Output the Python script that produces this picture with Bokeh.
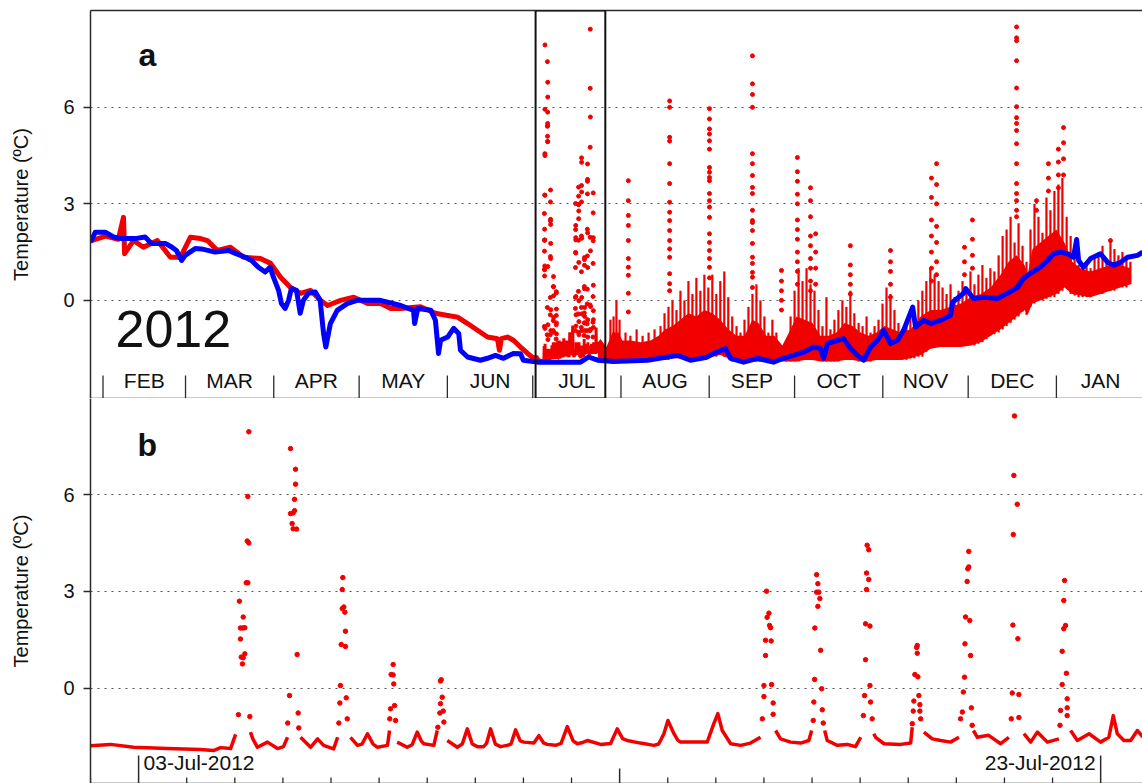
import numpy as np
import pandas as pd
from bokeh.plotting import figure
from bokeh.layouts import column
from bokeh.models import Range1d, FixedTicker, DatetimeAxis, BoxAnnotation
from bokeh.embed import file_html
from bokeh.resources import INLINE
from bokeh.core.properties import value

nan = float("nan")

# ---------------- DATA ----------------
# Panel a: days since 2012-01-01
a_blue_day = [26.6, 28.3, 31.8, 34.7, 37.5, 42.3, 45.8, 48.0, 52.9, 55.1, 56.8, 58.6, 59.9, 63.4, 65.6, 70.4,
              75.1, 77.5, 81.0, 83.2, 85.6, 88.0, 89.7, 90.9, 92.7, 93.7, 95.0, 96.2, 97.2, 99.0, 100.3, 101.4,
              103.2, 105.6, 107.3, 108.5, 109.3, 110.9, 113.3, 116.8, 120.3, 125.0, 128.5, 135.6, 140.1, 140.5,
              141.6, 146.2, 147.8, 148.9, 149.6, 152.1, 154.2, 156.0, 156.6, 159.1, 163.6, 166.1, 168.9, 171.7,
              175.2, 177.7, 178.7, 183.7, 191.8, 198.8, 201.6, 204.8, 210.4, 222.3, 232.9, 237.4, 242.7, 246.9,
              249.7, 251.5, 256.1, 261.0, 266.6, 270.1, 273.6, 277.2, 280.7, 283.1, 284.2, 285.6, 291.2, 293.7,
              296.1, 298.3, 300.7, 303.2, 305.3, 307.7, 310.2, 312.3, 315.5, 316.5, 319.3, 321.8, 325.3, 328.8,
              329.5, 333.4, 334.1, 336.9, 340.4, 345.3, 348.8, 352.3, 354.4, 356.9, 360.4, 362.9, 365.0, 367.5,
              369.9, 372.0, 373.1, 373.8, 375.5, 378.0, 381.5, 384.0, 386.1, 388.5, 391.0, 394.5, 396.3]
a_blue_temp = [1.81, 2.12, 2.12, 1.97, 1.92, 1.92, 1.97, 1.77, 1.77, 1.66, 1.55, 1.24, 1.40, 1.61, 1.60, 1.50,
               1.55, 1.46, 1.34, 1.24, 1.03, 0.88, 1.03, 0.72, 0.31, -0.10, -0.25, 0.00, 0.37, 0.31, -0.40, 0.00,
               0.22, 0.26, 0.00, -1.03, -1.45, -0.72, -0.31, -0.10, 0.00, 0.00, 0.00, -0.16, -0.31, -0.72,
               -0.25, -0.31, -0.62, -1.65, -1.24, -1.14, -0.87, -1.03, -1.55, -1.76, -1.86, -1.80, -1.71, -1.80,
               -1.65, -1.66, -1.86, -1.92, -1.92, -1.92, -1.76, -1.86, -1.90, -1.86, -1.71, -1.86, -1.78, -1.60,
               -1.50, -1.80, -1.92, -1.80, -1.92, -1.80, -1.71, -1.61, -1.45, -1.50, -1.80, -1.34, -1.19, -1.50,
               -1.71, -1.86, -1.45, -1.24, -0.93, -1.34, -1.24, -0.93, -0.21, -0.83, -0.62, -0.72, -0.62, -0.47,
               -0.06, 0.22, 0.37, 0.06, 0.10, 0.06, 0.22, 0.40, 0.68, 0.84, 1.03, 1.24, 1.45, 1.50,
               1.45, 1.34, 1.89, 1.24, 1.03, 1.30, 1.45, 1.18, 1.09, 1.18, 1.34, 1.40, 1.50]

a_red_day = [26.6, 31.9, 36.4, 38.2, 38.6, 41.7, 45.2, 50.1, 54.7, 58.2, 61.7, 65.3, 67.7, 71.2, 75.8, 80.4,
             86.3, 89.9, 93.4, 96.9, 100.4, 103.9, 107.5, 109.9, 114.5, 119.1, 124.0, 128.6, 132.1, 135.6,
             142.6, 147.8, 152.1, 155.6, 159.1, 162.6, 166.1, 169.6, 170.3, 171.0, 173.1, 175.2, 177.7, 180.2,
             182.3, 183.2]
a_red_temp = [1.85, 2.00, 1.90, 2.58, 1.45, 1.86, 1.65, 1.86, 1.34, 1.34, 1.96, 1.92, 1.86, 1.55, 1.65, 1.34,
              1.30, 1.15, 0.72, 0.40, 0.22, 0.31, 0.00, -0.16, 0.00, 0.10, -0.10, -0.10, -0.25, -0.25,
              -0.20, -0.40, -0.47, -0.52, -0.72, -0.93, -1.14, -1.19, -1.55, -1.19, -1.14, -1.24, -1.45, -1.65,
              -1.80, -1.78]

# dense core of the red cloud after the zoom window (lower / upper edge)
a_band_day = [204.9, 205.8, 207.9, 210.0, 212.1, 213.5, 216.3, 219.9, 223.4, 226.2, 228.6, 231.1, 233.9, 236.7,
              239.5, 242.3, 245.1, 247.9, 250.7, 253.6, 256.4, 259.2, 261.3, 264.1, 266.9, 269.7, 272.6, 274.7,
              277.5, 280.3, 283.1, 285.9, 288.7, 291.6, 294.4, 297.2, 300.0, 302.8, 305.6, 308.4, 311.2, 314.8,
              318.3, 321.8, 325.3, 328.8, 332.4, 335.9, 339.4, 342.9, 346.4, 349.2, 352.0, 354.8, 355.9, 357.6,
              360.4, 363.2, 366.0, 368.8, 371.6, 374.4, 377.9, 381.5, 385.0, 388.5, 392.0]
a_band_low = [-1.85, -1.85, -1.85, -1.85, -1.85, -1.85, -1.85, -1.85, -1.85, -1.85, -1.85, -1.80, -1.80, -1.80,
              -1.80, -1.80, -1.75, -1.70, -1.80, -1.90, -1.90, -1.90, -1.90, -1.90, -1.90, -1.90, -1.90, -1.90,
              -1.85, -1.85, -1.90, -1.90, -1.90, -1.85, -1.85, -1.90, -1.90, -1.85, -1.85, -1.85, -1.85, -1.80,
              -1.70, -1.50, -1.45, -1.45, -1.45, -1.40, -1.30, -1.10, -0.90, -0.70, -0.50, -0.30, -0.45, -0.10,
              0.00, 0.10, 0.20, 0.40, 0.20, 0.15, 0.10, 0.20, 0.30, 0.40, 0.50]
a_band_high = [-1.30, -1.20, -1.45, -1.00, -1.00, -1.25, -1.25, -1.30, -1.25, -1.10, -0.90, -0.80, -0.60, -0.40,
               -0.50, -0.30, -0.40, -0.60, -0.90, -1.10, -1.10, -0.60, -0.70, -1.10, -1.10, -1.40, -0.90, -0.50,
               -0.60, -0.70, -1.10, -1.10, -1.00, -0.70, -0.80, -1.00, -1.10, -1.00, -0.80, -0.90, -1.00, -0.90,
               -0.50, -0.30, -0.30, -0.20, -0.10, 0.10, 0.20, 0.40, 0.80, 1.20, 1.40, 1.10, 0.80, 1.60,
               1.80, 2.00, 2.20, 1.80, 1.20, 1.00, 0.90, 1.00, 1.10, 1.10, 1.00]

# vertical streaks of dense readings rising out of the core (day, bottom, top)
a_streak_day = [209.3, 210.4, 211.4, 212.5, 214.6, 216.3, 218.5, 220.6, 222.7, 224.8,
                226.9, 228.3, 229.7, 231.1, 232.5, 233.9, 235.3, 236.7, 238.1, 239.5,
                240.9, 242.3, 243.7, 245.1, 246.5, 247.9, 249.3, 250.7, 252.1, 253.6,
                255.0, 256.4, 257.8, 259.2, 260.6, 262.0, 263.4, 264.8, 266.2, 267.6,
                271.1, 272.6, 274.0, 275.4, 276.8, 278.2, 279.6, 281.0, 282.4, 283.8,
                285.2, 286.6, 288.0, 289.4, 290.8, 292.2, 293.6, 295.0, 296.5, 297.9,
                299.3, 300.7, 302.1, 303.5, 304.9, 306.3, 307.7, 309.1, 310.5, 311.9,
                313.3, 314.7, 316.1, 317.5, 318.9, 320.3, 321.7, 323.2, 324.6, 326.0,
                327.4, 328.8, 330.2, 331.6, 333.0, 334.4, 335.8, 337.2, 338.6, 340.0,
                341.4, 342.8, 344.2, 345.7, 347.1, 348.5, 349.9, 351.3, 352.7, 354.1,
                355.5, 356.9, 358.3, 359.7, 361.1, 362.5, 363.9, 365.3, 366.7, 368.1,
                369.6, 371.0, 372.4, 373.8, 375.2, 376.6, 378.0, 379.4, 380.8, 382.2,
                383.6, 385.0, 386.4, 387.8, 389.2, 390.6, 392.0]
a_streak_low = [-1.85, -1.85, -1.85, -1.85, -1.85, -1.85, -1.85, -1.85, -1.85, -1.85,
                -1.85, -1.85, -1.85, -1.80, -1.80, -1.80, -1.80, -1.80, -1.80, -1.80,
                -1.80, -1.80, -1.80, -1.75, -1.75, -1.70, -1.75, -1.80, -1.90, -1.90,
                -1.90, -1.90, -1.90, -1.90, -1.90, -1.90, -1.90, -1.90, -1.90, -1.90,
                -1.90, -1.90, -1.90, -1.90, -1.85, -1.85, -1.85, -1.85, -1.85, -1.90,
                -1.90, -1.90, -1.90, -1.90, -1.85, -1.85, -1.85, -1.85, -1.90, -1.90,
                -1.90, -1.90, -1.85, -1.85, -1.85, -1.85, -1.85, -1.85, -1.85, -1.85,
                -1.85, -1.80, -1.80, -1.75, -1.75, -1.60, -1.50, -1.45, -1.45, -1.45,
                -1.45, -1.45, -1.45, -1.45, -1.40, -1.40, -1.40, -1.40, -1.35, -1.30,
                -1.20, -1.10, -1.05, -1.00, -0.90, -0.80, -0.70, -0.60, -0.50, -0.35,
                -0.45, -0.20, -0.10, 0.00, 0.00, 0.05, 0.10, 0.10, 0.20, 0.30,
                0.40, 0.20, 0.15, 0.10, 0.10, 0.10, 0.10, 0.20, 0.20, 0.20,
                0.30, 0.30, 0.30, 0.40, 0.40, 0.40, 0.50]
a_streak_top = [-0.6, -0.5, 0.0, -0.6, -1.0, -1.1, -0.9, -1.1, -1.0, -0.9,
                -0.8, -0.4, -0.2, 0.0, -0.3, 0.3, 0.0, 0.6, 0.2, 0.7,
                0.3, 0.8, 0.4, 0.8, 0.2, 0.6, 0.9, 0.1, -0.5, -0.8,
                -1.0, -0.6, -0.2, 0.2, 0.5, 0.0, -0.5, -1.0, -0.6, -1.0,
                -1.3, -0.5, 0.3, 1.0, 0.6, 1.0, 0.5, 0.3, -0.3, -0.8,
                0.1, -0.9, -0.6, -0.3, 0.0, -0.2, 0.3, -0.4, -0.7, -0.8,
                -0.5, -1.0, -0.8, -0.6, -0.1, 0.4, 0.2, -0.3, -0.7, -0.9,
                -0.8, -0.5, -0.4, 0.0, 0.3, 0.6, 1.0, 0.8, 0.6, 0.4,
                0.2, 0.5, 0.1, 0.3, 0.6, 0.4, 0.9, 0.5, 0.8, 1.1,
                0.7, 1.0, 0.9, 1.4, 2.0, 2.2, 2.6, 1.8, 2.4, 1.7,
                1.2, 2.2, 3.0, 2.6, 2.1, 3.2, 2.8, 3.4, 3.6, 3.8,
                2.6, 2.0, 1.6, 1.1, 1.0, 1.2, 1.0, 1.3, 1.5, 1.7,
                1.3, 1.9, 1.6, 1.4, 1.5, 1.3, 1.2]

# isolated warm readings (columns of dots) after the zoom window
a_spike_day = [215.6, 230.1, 244.1, 259.2, 269.4, 275.0, 279.6, 281.4, 293.6, 307.7, 322.1, 323.9, 333.7, 336.5,
               352.0, 359.0, 363.2, 366.7, 368.5, 385.0]
a_spike_temp = [
    [3.72, 3.10, 2.64, 2.33, 1.86, 1.30, 1.03, 0.78, 0.22, -0.36],
    [6.20, 6.00, 5.07, 4.95, 4.25, 3.63, 3.05, 2.74, 2.48, 2.17, 1.86, 1.60, 1.34, 0.83, 0.52, 0.30],
    [5.96, 5.64, 5.33, 5.17, 4.96, 4.70, 4.13, 3.98, 3.82, 3.72, 3.32, 3.10, 2.90, 2.58, 2.07, 1.80, 1.55, 1.30, 1.03, 0.70],
    [7.60, 6.73, 6.40, 6.00, 4.56, 4.25, 3.88, 3.51, 3.32, 2.80, 2.48, 2.42, 2.17, 1.77, 1.34, 1.15, 0.87, 0.72, 0.40],
    [0.93, 0.60, 0.30, 0.00, -0.30],
    [4.44, 4.00, 3.70, 3.30, 3.00, 2.50, 2.20, 1.90, 1.50, 1.20, 0.90, 0.50],
    [3.50, 3.10, 2.60, 2.00, 1.70, 1.30, 1.00, 0.60, 0.30],
    [2.07, 1.50, 1.00, 0.50],
    [1.70, 1.10, 0.80, 0.50, 0.20],
    [1.55, 1.20, 0.90, 0.50, 0.10],
    [3.80, 3.20, 2.50, 2.00, 1.50, 1.00, 0.60],
    [4.25, 3.60, 3.00, 2.30, 1.80, 1.20, 0.80],
    [1.65, 1.20, 0.80],
    [2.50, 1.90, 1.40, 1.00],
    [8.50, 8.16, 8.07, 7.45, 6.60, 6.02, 5.68, 5.50, 5.28, 4.87, 4.25, 3.63, 3.32, 3.10, 2.80, 2.60],
    [3.10, 2.80],
    [4.25, 3.80, 3.40],
    [4.70, 4.30, 3.90, 3.50],
    [5.37, 4.90, 4.40, 3.90],
    [1.86],
]

# Panel b (zoom on July): hours since 2012-07-02 00:00
b_base_hours = [0, 10, 21.5, 38.4, 54.9, 61.4, 64.9, 69.9, 72.4, 76.5,
                79.8, 81.0, 83.3, 88.3, 93.3, 96.3, 98.3, 101.0, 104.8, 109.8,
                113.3, 116.3, 121.3, 123.3, 125.5, 129.7, 133.2, 135.5, 138.2, 141.0,
                143.2, 148.2, 149.2, 150.5, 153.0, 158.0, 160.5, 163.0, 165.0, 166.3,
                171.3, 173.0, 174.8, 178.0, 183.0, 185.5, 188.0, 190.5, 193.0, 196.1,
                197.6, 199.6, 202.0, 204.6, 207.9, 209.8, 212.1, 214.4, 216.2, 221.2,
                223.7, 226.0, 227.9, 232.0, 234.8, 237.9, 240.8, 242.9, 245.0, 247.9,
                254.5, 259.5, 262.8, 265.5, 267.8, 274.4, 281.1, 283.5, 286.1, 288.1,
                291.1, 293.0, 294.4, 302.7, 307.7, 311.0, 313.0, 315.2, 319.4, 324.4,
                329.3, 334.3, 337.8, 341.8, 344.3, 349.3, 354.3, 358.4, 359.8, 362.8,
                366.3, 367.6, 372.6, 377.6, 381.7, 384.3, 387.2, 390.8, 391.7, 395.9,
                404.2, 409.2, 410.0, 411.7, 415.8, 420.0, 424.2, 429.1, 433.3, 437.6,
                440.5, 442.5, 448.1, 454.1, 458.2, 461.1, 465.7, 469.1, 472.4, 477.4,
                483.2, 485.5, 489.0, 492.4, 498.2, 504.0, 508.1, 510.3, 512.3, 515.6,
                519.0, 522.3, 525.0]
b_base_temp = [-1.77, -1.73, -1.82, -1.86, -1.89, -1.92, -1.83, -1.86, -1.42, nan,
               -1.35, -1.56, -1.82, -1.66, -1.86, -1.80, -1.51, nan, -1.51, -1.82,
               -1.56, -1.76, -1.87, -1.51, nan, -1.51, -1.76, -1.72, -1.40, -1.72,
               -1.82, -1.76, -1.30, nan, -1.66, -1.82, -1.74, -1.35, -1.62, -1.71,
               -1.76, -1.30, nan, -1.61, -1.82, -1.72, -1.25, -1.72, -1.80, -1.80,
               -1.70, -1.25, -1.72, -1.80, -1.76, -1.72, -1.28, -1.62, -1.66, -1.69,
               -1.46, -1.68, -1.73, -1.76, -1.70, -1.18, -1.62, -1.71, -1.68, -1.61,
               -1.73, -1.70, -1.25, -1.55, -1.61, -1.69, -1.76, -1.72, -1.40, -0.99,
               -1.40, -1.60, -1.66, -1.66, -1.66, -1.09, -0.78, -1.30, -1.71, -1.76,
               -1.69, -1.51, nan, -1.30, -1.56, -1.66, -1.69, -1.61, -1.30, nan,
               -1.30, -1.61, -1.76, -1.73, -1.80, -1.51, nan, -1.40, -1.51, -1.71,
               -1.73, -1.69, -1.20, nan, -1.35, -1.56, -1.61, -1.66, -1.51, nan,
               -1.30, -1.51, -1.45, -1.71, -1.51, nan, -1.40, -1.66, -1.35, -1.66,
               -1.56, nan, -1.30, -1.61, -1.40, -1.66, -1.51, -0.84, -1.40, -1.61,
               -1.61, -1.30, -1.50]

b_event_hours = [
    [79.0, 78.5, 78.2, 79.0, 77.7, 78.5, 74.3, 76.2, 74.8, 76.0, 77.0, 74.8, 75.2, 77.0, 76.2, 75.8, 73.8, 79.5],
    [99.8, 102.3, 102.3, 101.8, 99.8, 101.1, 101.8, 100.6, 101.1, 102.8, 103.1, 99.3, 103.6, 98.4, 103.9],
    [125.9, 125.6, 126.4, 125.6, 126.9, 127.2, 125.1, 127.2, 124.7, 124.4, 127.6, 128.1, 123.9],
    [151.0, 150.0, 151.0, 151.3, 149.7, 151.7, 149.3, 152.2],
    [175.0, 174.6, 175.5, 174.6, 176.0, 174.3, 176.3, 173.3],
    [337.3, 338.5, 337.6, 338.8, 339.3, 336.8, 339.6, 336.8, 336.0, 339.8, 336.0, 340.6, 335.2, 340.6],
    [362.3, 362.9, 363.4, 362.3, 363.9, 362.9, 361.4, 364.3, 361.3, 364.8, 360.9, 365.1, 360.6, 365.6],
    [387.5, 388.3, 387.2, 388.3, 387.2, 386.7, 388.9, 386.7, 388.9, 386.2, 389.2, 385.6, 390.0],
    [412.5, 412.2, 412.5, 411.3, 412.8, 413.3, 410.8, 413.8, 413.8, 410.5, 414.2, 410.0],
    [438.2, 438.2, 437.7, 437.4, 436.6, 438.7, 436.3, 439.1, 436.1, 435.5, 439.5, 435.0, 434.1, 439.9],
    [461.0, 460.7, 462.4, 460.4, 460.2, 462.7, 459.9, 463.2, 459.4, 463.2],
    [486.0, 485.6, 486.5, 485.6, 484.8, 486.9, 484.8, 487.3, 484.0, 487.3, 487.3, 483.7],
]
b_event_temp = [
    [7.94, 5.94, 4.56, 4.50, 3.27, 3.27, 2.70, 2.21, 1.87, 1.87, 1.88, 1.53, 0.97, 1.07, 0.95, 0.76, -0.81, -0.87],
    [7.42, 6.78, 6.32, 5.85, 5.41, 5.43, 5.50, 5.10, 4.94, 4.93, 1.05, -0.22, -0.76, -1.07, -1.22],
    [3.43, 3.06, 2.52, 2.47, 2.36, 1.77, 1.36, 1.30, 0.09, -0.45, -0.29, -0.94, -1.07],
    [0.74, 0.43, 0.42, 0.14, -0.63, -0.53, -0.94, -0.99],
    [0.27, 0.23, -0.27, -0.47, -0.70, -0.76, -1.04, -1.20],
    [3.01, 2.33, 2.20, 1.95, 1.88, 1.49, 1.47, 1.02, 0.09, 0.12, -0.25, -0.45, -0.94, -0.80],
    [3.52, 3.24, 2.98, 2.98, 2.78, 2.54, 1.87, 1.18, 0.28, -0.01, -0.42, -0.66, -0.99, -1.07],
    [4.43, 4.29, 3.57, 3.37, 3.06, 2.00, 1.93, 0.89, 0.09, -0.22, -0.42, -0.84, -0.94],
    [1.33, 1.27, 1.09, 0.43, 0.36, -0.22, -0.39, -0.50, -0.70, -0.70, -0.94, -1.09],
    [4.24, 3.76, 3.70, 3.31, 2.21, 2.10, 1.38, 1.02, 0.35, -0.11, -0.60, -0.73, -0.94, -1.14],
    [8.43, 6.59, 5.70, 4.76, 1.96, 1.54, -0.14, -0.19, -0.94, -0.90],
    [3.34, 2.72, 1.95, 1.85, 1.15, 0.47, 0.12, -0.32, -0.68, -0.60, -0.84, -1.14],
]

# axes / labels
y_ticks = [0, 3, 6]
month_starts = ["2012-02-01", "2012-03-01", "2012-04-01", "2012-05-01", "2012-06-01", "2012-07-01",
                "2012-08-01", "2012-09-01", "2012-10-01", "2012-11-01", "2012-12-01", "2013-01-01", "2013-02-01"]
month_names = ["FEB", "MAR", "APR", "MAY", "JUN", "JUL", "AUG", "SEP", "OCT", "NOV", "DEC", "JAN"]
zoom_window = ("2012-07-02 00:00", "2012-07-26 12:00")
b_label_dates = ["2012-07-03", "2012-07-23"]
b_labels = ["03-Jul-2012", "23-Jul-2012"]
b_mid_date = "2012-07-13"
b_day_ticks = ["2012-07-02", "2012-07-04", "2012-07-05", "2012-07-06", "2012-07-07", "2012-07-08",
               "2012-07-09", "2012-07-10", "2012-07-11", "2012-07-12", "2012-07-14", "2012-07-15",
               "2012-07-16", "2012-07-17", "2012-07-18", "2012-07-19", "2012-07-20", "2012-07-21",
               "2012-07-22", "2012-07-24"]

# ---------------- HELPERS ----------------
RED = "#f20000"
BLUE = "#0000ff"
AXIS = "#2b2b2b"
TXT = "#111111"
FONT = "Liberation Sans"

T0 = pd.Timestamp("2012-01-01")
B0 = pd.Timestamp("2012-07-02")


def from_days(d):
    return T0 + pd.to_timedelta(np.asarray(d, dtype=float), unit="D")


def from_hours(h):
    return B0 + pd.to_timedelta(np.asarray(h, dtype=float), unit="h")


def ms(ts):
    return pd.Timestamp(ts).value / 1e6


a_xlim = (T0 + pd.Timedelta(days=26.61), T0 + pd.Timedelta(days=396.25))
a_ylim = (-3.05, 9.01)
b_xlim = (B0, B0 + pd.Timedelta(days=21.87))
b_ylim = (-2.94, 8.97)


def style_y(p):
    ax = p.yaxis[0]
    ax.ticker = FixedTicker(ticks=y_ticks)
    ax.major_label_text_font = FONT
    ax.major_label_text_font_size = "20px"
    ax.major_label_text_color = TXT
    ax.major_tick_out = 7
    ax.major_tick_in = 0
    ax.minor_tick_out = 0
    ax.minor_tick_in = 0
    ax.major_label_standoff = 9
    ax.axis_label = "Temperature (ºC)"
    ax.axis_label_text_font = FONT
    ax.axis_label_text_font_size = "20px"
    ax.axis_label_text_font_style = "normal"
    ax.axis_label_text_color = TXT
    ax.axis_label_standoff = 28
    ax.axis_line_color = AXIS
    ax.axis_line_width = 1.5
    ax.major_tick_line_color = AXIS
    ax.major_tick_line_width = 1.5
    p.ygrid.ticker = FixedTicker(ticks=y_ticks)
    p.ygrid.grid_line_color = "#555555"
    p.ygrid.grid_line_dash = "2 5"
    p.ygrid.grid_line_width = 1
    p.xgrid.grid_line_color = None


def line_only(ax):
    ax.ticker = FixedTicker(ticks=[], minor_ticks=[])
    ax.major_tick_in = 0
    ax.major_tick_out = 0
    ax.minor_tick_in = 0
    ax.minor_tick_out = 0
    ax.major_label_standoff = 0
    ax.axis_line_color = AXIS
    ax.axis_line_width = 1.5


def ticks_up(p, dates, y0, length, width=1.3):
    p.ray(x=[pd.Timestamp(d) for d in dates], y=[y0] * len(dates), length=length, length_units="screen",
          angle=90, angle_units="deg", line_color=AXIS, line_width=width)


# ---------------- PANEL A ----------------
pa = figure(width=1142, height=398, x_axis_type="datetime",
            x_range=Range1d(*a_xlim), y_range=Range1d(*a_ylim),
            toolbar_location=None, output_backend="svg",
            min_border_left=90, min_border_right=0, min_border_top=10, min_border_bottom=0,
            outline_line_color=None, background_fill_color="white", border_fill_color="white")
style_y(pa)
line_only(pa.xaxis[0])
top_a = DatetimeAxis()
line_only(top_a)
pa.add_layout(top_a, "above")

# red series
pa.varea(x=from_days(a_band_day), y1=a_band_low, y2=a_band_high, fill_color=RED)
pa.segment(x0=from_days(a_streak_day), y0=a_streak_low, x1=from_days(a_streak_day), y1=a_streak_top,
           line_color=RED, line_width=2.2)
pa.line(from_days(a_red_day), a_red_temp, line_color=RED, line_width=5, line_join="round")
pa.line(from_hours(b_base_hours), b_base_temp, line_color=RED, line_width=3)
ev_h = [h for grp in b_event_hours for h in grp]
ev_t = [t for grp in b_event_temp for t in grp]
pa.scatter(from_hours(ev_h), ev_t, size=4, color=RED, marker="circle")
sp_d = [d for d, grp in zip(a_spike_day, a_spike_temp) for _ in grp]
sp_t = [t for grp in a_spike_temp for t in grp]
pa.scatter(from_days(sp_d), sp_t, size=4, color=RED, marker="circle")
# blue series
pa.line(from_days(a_blue_day), a_blue_temp, line_color=BLUE, line_width=5, line_join="round")

pa.add_layout(BoxAnnotation(left=ms(zoom_window[0]), right=ms(zoom_window[1]),
                            fill_color=None, fill_alpha=0, line_color=TXT, line_alpha=1.0, line_width=2))

ticks_up(pa, month_starts, a_ylim[0], 23)
mids = [pd.Timestamp(month_starts[i]) + (pd.Timestamp(month_starts[i + 1]) - pd.Timestamp(month_starts[i])) / 2
        for i in range(len(month_names))]
pa.text(x=mids, y=[a_ylim[0]] * len(mids), text=month_names, text_align="center",
        text_baseline="alphabetic", y_offset=-18, text_font=value(FONT), text_font_size="21px",
        text_color=TXT)
pa.text(x=[a_xlim[0]], y=[a_ylim[1]], text=["a"], x_offset=48, y_offset=44, text_font=value(FONT),
        text_font_style="bold", text_font_size="32px", text_baseline="alphabetic", text_color=TXT)
pa.text(x=[a_xlim[0]], y=[a_ylim[0]], text=["2012"], x_offset=25, y_offset=-70, text_font=value(FONT),
        text_font_size="52px", text_baseline="alphabetic", text_color=TXT)

# ---------------- PANEL B ----------------
pb = figure(width=1142, height=385, x_axis_type="datetime",
            x_range=Range1d(*b_xlim), y_range=Range1d(*b_ylim),
            toolbar_location=None, output_backend="svg",
            min_border_left=90, min_border_right=0, min_border_top=0, min_border_bottom=0,
            outline_line_color=None, background_fill_color="white", border_fill_color="white")
style_y(pb)
line_only(pb.xaxis[0])

pb.line(from_hours(b_base_hours), b_base_temp, line_color=RED, line_width=3.5, line_join="round")
pb.scatter(from_hours(ev_h), ev_t, size=4.5, color=RED, marker="circle")

ticks_up(pb, b_day_ticks, b_ylim[0], 6)
ticks_up(pb, [b_mid_date], b_ylim[0], 15, 1.5)
ticks_up(pb, b_label_dates, b_ylim[0], 28, 1.5)

pb.text(x=[pd.Timestamp(b_label_dates[0])], y=[b_ylim[0]], text=[b_labels[0]], x_offset=5, y_offset=-21,
        text_align="left", text_baseline="alphabetic", text_font=value(FONT), text_font_size="21px",
        text_color=TXT)
pb.text(x=[pd.Timestamp(b_label_dates[1])], y=[b_ylim[0]], text=[b_labels[1]], x_offset=-5, y_offset=-21,
        text_align="right", text_baseline="alphabetic", text_font=value(FONT), text_font_size="21px",
        text_color=TXT)
pb.text(x=[b_xlim[0]], y=[b_ylim[1]], text=["b"], x_offset=47, y_offset=46, text_font=value(FONT),
        text_font_style="bold", text_font_size="32px", text_baseline="alphabetic", text_color=TXT)

layout = column(pa, pb)
open("out.html", "w").write(file_html(layout, INLINE))
